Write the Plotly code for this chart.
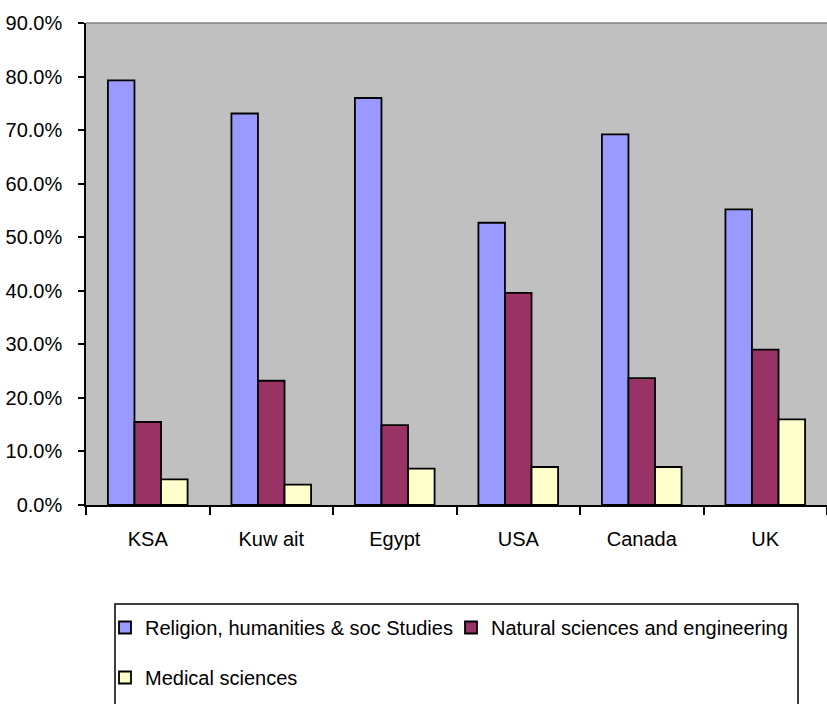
import plotly.graph_objects as go

countries = ["KSA", "Kuw ait", "Egypt", "USA", "Canada", "UK"]
religion_humanities = [0.793, 0.731, 0.760, 0.527, 0.692, 0.552]
natural_sciences = [0.155, 0.232, 0.149, 0.396, 0.237, 0.290]
medical_sciences = [0.048, 0.038, 0.068, 0.071, 0.071, 0.160]
series_names = ["Religion, humanities & soc Studies",
                "Natural sciences and engineering",
                "Medical sciences"]
colors = ["#9999FF", "#993366", "#FFFFCC"]
ytick_vals = [0.0, 0.1, 0.2, 0.3, 0.4, 0.5, 0.6, 0.7, 0.8, 0.9]

FONT = "Liberation Sans, Arial, sans-serif"
FS = 20

fig = go.Figure()
for vals, name, col, leg in zip([religion_humanities, natural_sciences, medical_sciences],
                                series_names, colors, ["legend", "legend3", "legend2"]):
    fig.add_trace(go.Bar(x=countries, y=vals, name=name, legend=leg,
                         marker=dict(color=col, line=dict(color="black", width=1.8))))

W, H = 827, 704
ML, MR, MT, MB = 86, 0, 23, 199
pw = W - ML - MR
ph = H - MT - MB

def px(xpix):
    return (xpix - ML) / pw

def py(ypix):
    return (H - MB - ypix) / ph

def leg(xpix, ypix):
    return dict(orientation="h", x=px(xpix), y=py(ypix), xanchor="left", yanchor="top",
                bgcolor="rgba(0,0,0,0)", borderwidth=0, itemwidth=30,
                font=dict(family=FONT, size=FS, color="black"))

fig.update_layout(
    width=W, height=H,
    margin=dict(l=ML, r=MR, t=MT, b=MB, autoexpand=False),
    paper_bgcolor="white",
    plot_bgcolor="#C0C0C0",
    barmode="group",
    bargap=0.355,
    bargroupgap=0,
    font=dict(family=FONT, size=FS, color="black"),
    showlegend=True,
    legend=leg(105, 608),
    legend3=leg(451, 608),
    legend2=leg(105, 658),
    xaxis=dict(showgrid=False, showline=True, linecolor="black", linewidth=1.5,
               ticks="outside", ticklen=8, tickwidth=1.5, tickcolor="black",
               tickson="boundaries", ticklabelstandoff=15,
               tickfont=dict(family=FONT, size=FS, color="black"), fixedrange=True),
    yaxis=dict(range=[0, 0.9], tickvals=ytick_vals, tickformat=".1%",
               showgrid=False, zeroline=False, showline=True, linecolor="black",
               linewidth=1.5, ticks="outside", ticklen=6, tickwidth=1.5, tickcolor="black",
               ticklabelstandoff=12,
               tickfont=dict(family=FONT, size=FS, color="black"), fixedrange=True),
    shapes=[
        dict(type="line", xref="paper", yref="paper", x0=0, x1=1, y0=1, y1=1,
             line=dict(color="#808080", width=1.5)),
        dict(type="rect", xref="paper", yref="paper", x0=px(115), x1=px(798),
             y0=py(604), y1=py(712), line=dict(color="black", width=1.5),
             fillcolor="rgba(0,0,0,0)"),
    ],
)

fig.write_html("out.html", config={"displayModeBar": False},
               post_script="document.body.style.margin='0px';document.body.style.overflow='hidden';")
